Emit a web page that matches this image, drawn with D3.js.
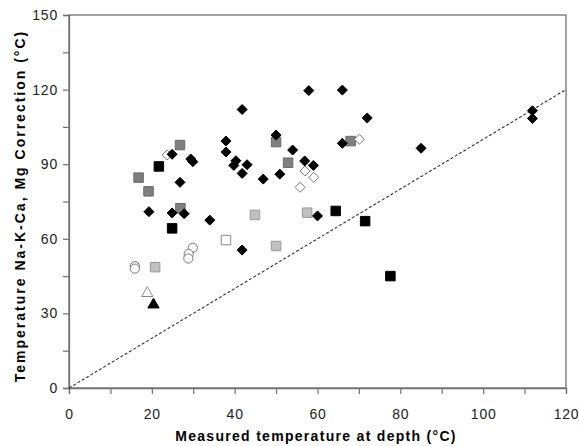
<!DOCTYPE html>
<html>
<head>
<meta charset="utf-8">
<script src="https://cdn.jsdelivr.net/npm/d3@7"></script>
<style>
  body { margin: 0; background: #fff; }
  svg { display: block; font-family: "Liberation Sans", Arial, sans-serif; }
</style>
</head>
<body>
<div id="chart"></div>
<script>
// measured vs Na-K-Ca geothermometer temperature (deg C)
const blackDiamonds = [
  [24.9, 94.0], [29.4, 92.1], [29.9, 91.0], [26.8, 82.7], [19.3, 70.9],
  [24.9, 70.4], [27.8, 70.1], [34.0, 67.5], [41.8, 55.5], [57.9, 119.6],
  [66.0, 119.8], [41.8, 112.0], [72.0, 108.6], [50.0, 101.7], [37.9, 99.3],
  [66.0, 98.4], [37.9, 94.9], [54.0, 95.7], [40.3, 91.4], [39.8, 89.5],
  [43.0, 89.8], [41.8, 86.3], [56.9, 91.3], [59.0, 89.5], [50.9, 86.0],
  [46.9, 84.0], [60.0, 69.2], [85.0, 96.4], [111.9, 111.5], [111.9, 108.4]
];
const openDiamonds = [[23.7, 93.7], [70.1, 100.0], [57.0, 87.3], [59.1, 84.7], [55.8, 80.7]];
const darkSquares = [[26.8, 97.7], [16.8, 84.6], [19.2, 79.1], [26.9, 72.3], [50.0, 98.9], [68.0, 99.3], [52.9, 90.6]];
const lightSquares = [[44.9, 69.6], [20.8, 48.6], [57.5, 70.5], [50.0, 57.1]];
const blackSquares = [[21.7, 89.1], [24.9, 64.2], [64.4, 71.2], [71.5, 67.1], [77.6, 45.0]];
const openSquares = [[37.9, 59.5]];
const openCircles = [[29.9, 56.4], [28.9, 53.9], [28.8, 52.1], [15.9, 49.0], [15.9, 48.0]];
const openTriangles = [[18.9, 38.1]];
const blackTriangles = [[20.4, 33.5]];

const xTicks = [0, 20, 40, 60, 80, 100, 120];
const yTicks = [0, 30, 60, 90, 120, 150];
const equalLine = [[0, 0], [120, 120]];

const W = 579, H = 446;
const margin = {top: 15, right: 13, bottom: 58, left: 69};

const svg = d3.select("#chart").append("svg")
    .attr("width", W)
    .attr("height", H);

const x = d3.scaleLinear().domain([0, 120]).range([margin.left, W - margin.right]);
const y = d3.scaleLinear().domain([0, 150]).range([H - margin.bottom, margin.top]);

// frame
svg.append("rect")
    .attr("x", x(0)).attr("y", y(150))
    .attr("width", x(120) - x(0)).attr("height", y(0) - y(150))
    .attr("fill", "none").attr("stroke", "#707070").attr("stroke-width", 1.3);

const xAxis = svg.append("g")
    .attr("transform", `translate(0,${y(0)})`)
    .call(d3.axisBottom(x).tickValues(d3.range(0, 121, 10)).tickSize(6)
        .tickFormat(d => xTicks.includes(d) ? d : ""));
const yAxis = svg.append("g")
    .attr("transform", `translate(${x(0)},0)`)
    .call(d3.axisLeft(y).tickValues(d3.range(0, 151, 15)).tickSize(6)
        .tickFormat(d => yTicks.includes(d) ? d : ""));

[xAxis, yAxis].forEach(g => {
    g.select(".domain").attr("stroke", "#707070").attr("stroke-width", 1.3);
    g.selectAll(".tick line").attr("stroke", "#707070").attr("stroke-width", 1.2);
    g.selectAll(".tick text")
        .attr("fill", "#222")
        .style("font-size", "14px")
        .style("letter-spacing", "0.8px");
});
xAxis.selectAll(".tick text").attr("dy", "1.55em");
yAxis.selectAll(".tick text").attr("x", -11);

// 1:1 line
svg.append("path")
    .attr("d", d3.line().x(d => x(d[0])).y(d => y(d[1]))(equalLine))
    .attr("fill", "none")
    .attr("stroke", "#333")
    .attr("stroke-width", 1.1)
    .attr("stroke-dasharray", "3,2");

function drawSymbols(data, type, size, fill, stroke, sw) {
    svg.append("g").selectAll("path").data(data).join("path")
        .attr("transform", d => `translate(${x(d[0])},${y(d[1])})`)
        .attr("d", d3.symbol().type(type).size(size))
        .attr("fill", fill)
        .attr("stroke", stroke)
        .attr("stroke-width", sw);
}

const diamond = {
    draw(ctx, size) {
        const r = Math.sqrt(size) / 2;
        ctx.moveTo(0, -r); ctx.lineTo(r, 0); ctx.lineTo(0, r); ctx.lineTo(-r, 0); ctx.closePath();
    }
};

drawSymbols(openCircles, d3.symbolCircle, 66, "#fff", "#777", 1);
drawSymbols(openTriangles, d3.symbolTriangle, 55, "#fff", "#888", 1);
drawSymbols(blackTriangles, d3.symbolTriangle, 55, "#000", "#000", 1);
drawSymbols(openSquares, d3.symbolSquare, 90, "#fff", "#888", 1);
drawSymbols(lightSquares, d3.symbolSquare, 90, "#c0c0c0", "#999", 1);
drawSymbols(darkSquares, d3.symbolSquare, 90, "#7f7f7f", "#6a6a6a", 1);
drawSymbols(blackSquares, d3.symbolSquare, 90, "#000", "#000", 1);
drawSymbols(openDiamonds, diamond, 100, "#fff", "#777", 1);
drawSymbols(blackDiamonds, diamond, 100, "#000", "#000", 1);

// titles
svg.append("text")
    .attr("x", 316)
    .attr("y", 441)
    .attr("text-anchor", "middle")
    .style("font-size", "14px")
    .style("font-weight", "bold")
    .style("letter-spacing", "1.3px")
    .text("Measured temperature at depth (°C)");

svg.append("text")
    .attr("transform", "translate(25,206) rotate(-90)")
    .attr("text-anchor", "middle")
    .style("font-size", "14px")
    .style("font-weight", "bold")
    .style("letter-spacing", "2px")
    .text("Temperature Na-K-Ca, Mg Correction (°C)");
</script>
</body>
</html>
